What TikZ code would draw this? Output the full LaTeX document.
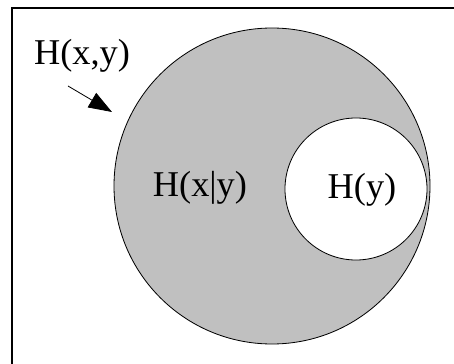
\documentclass[tikz,border=0pt]{standalone}
\usepackage{fontspec}
\setmainfont{Liberation Serif}
\usepackage{tikz}
\usetikzlibrary{calc,positioning,arrows.meta}
\definecolor{SetGray}{HTML}{C0C0C0}
\definecolor{InkBlack}{HTML}{000000}

\tikzset{
  setlabel/.style={text=InkBlack,font=\fontsize{31}{33}\selectfont,inner sep=0pt},
  setcircle/.style={circle,draw=InkBlack,line width=0.7pt,inner sep=0pt},
}

\begin{document}
\begin{tikzpicture}[x=0.3mm,y=-0.3mm]
  \useasboundingbox (0,0) rectangle (454,364);
  \fill[white] (0,0) rectangle (454,364);
  % open frame, cut at right and bottom
  \draw[InkBlack,line width=2.5pt] (12,370) -- (12,8) -- (460,8);
  % joint entropy and the conditioning set
  \node[setcircle,fill=SetGray,minimum size=94.8mm] (hxy) at (272,186) {};
  \node[setcircle,fill=white,minimum size=42.6mm] (hy) at (356,189) {};
  \node[setlabel,anchor=base] (hylabel) at (362,199) {H(y)};
  \node[setlabel,anchor=base] (hxgy) at (200,197) {H(x|y)};
  \node[setlabel,anchor=base] (hxylabel) at (82,65) {H(x,y)};
  \coordinate (hxystart) at (68,86);
  \coordinate (hxytip) at (112,112);
  \draw[InkBlack,line width=0.7pt,-{Triangle[length=7mm,width=5mm]}]
    (hxystart) -- (hxytip);
\end{tikzpicture}
\end{document}
